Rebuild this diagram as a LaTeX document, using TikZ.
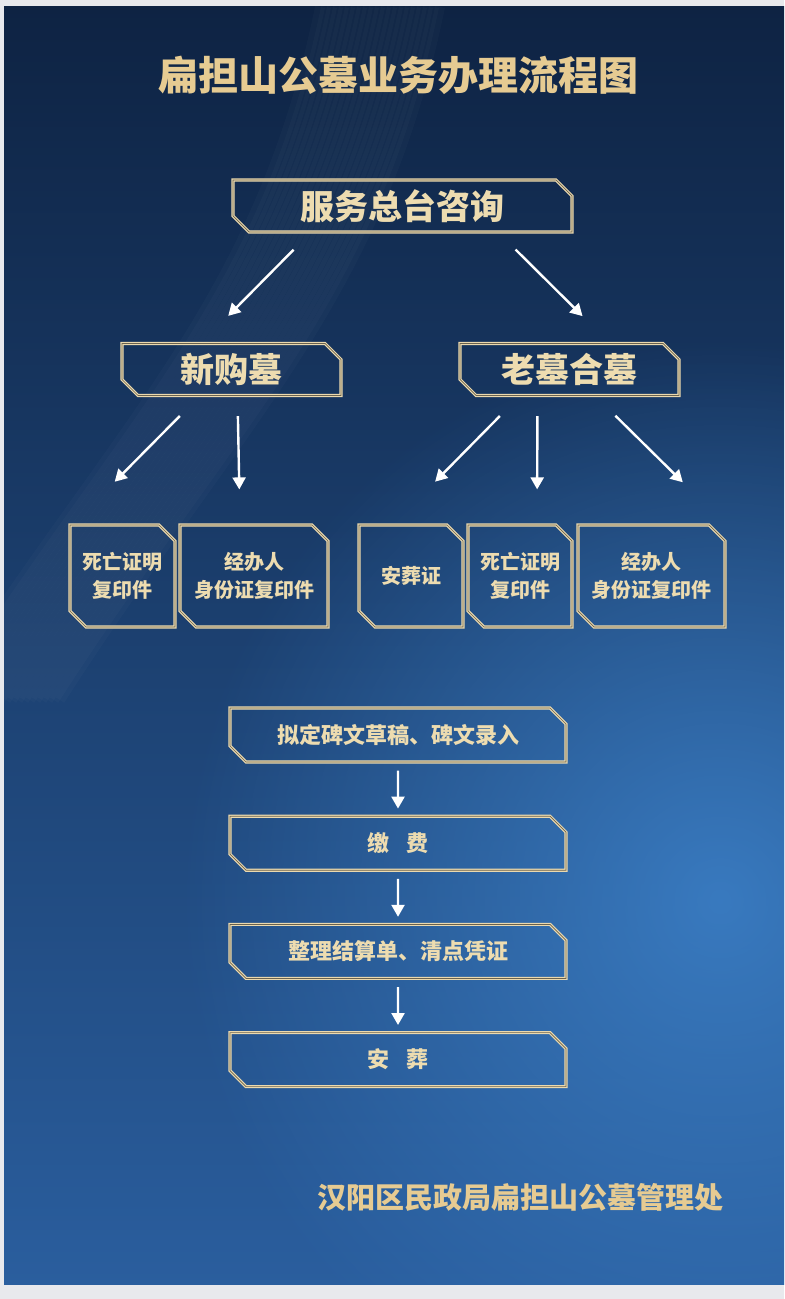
\documentclass[tikz,border=0pt]{standalone}
\usepackage{fontspec}
\newfontfamily\cjk{Noto Sans CJK SC}
\usetikzlibrary{arrows.meta,positioning,shapes.misc,fadings}
\definecolor{pagegray}{HTML}{E8E9ED}
\definecolor{bgtop}{HTML}{0E2343}
\definecolor{bgmid}{HTML}{163963}
\definecolor{bgbot}{HTML}{2A5E9E}
\definecolor{glowblue}{HTML}{3D82CA}
\definecolor{titlegold}{HTML}{E6CB92}
\definecolor{frame}{HTML}{EBD9AE}
\definecolor{boxtext}{HTML}{EDDCB0}
\tikzfading[name=softglow, inner color=transparent!15, outer color=transparent!100]

\begin{document}
\begin{tikzpicture}[x=0.5pt, y=-0.5pt,
  box/.style={chamfered rectangle, chamfered rectangle corners={north east,south west},
    chamfered rectangle xsep=4pt, chamfered rectangle ysep=4pt, inner sep=0pt,
    draw=frame, line width=0.6pt, double=frame!45!black, double distance=0.35pt,
    text=boxtext, align=center},
  headbox/.style={box, minimum height=26pt, font=\cjk\bfseries\fontsize{17}{20}\selectfont},
  docbox/.style={box, minimum height=51pt, font=\cjk\bfseries\fontsize{10}{14}\selectfont},
  flowbox/.style={box, minimum width=168pt, minimum height=27pt, font=\cjk\bfseries\fontsize{11}{13}\selectfont},
  arr/.style={-{Triangle[length=6pt,width=6.5pt]}, white, line width=1.2pt}
]
\useasboundingbox (0,0) rectangle (784,1299);
% background
\fill[pagegray] (0,0) rectangle (784,1299);
\shade[top color=bgtop, middle color=bgmid, bottom color=bgbot] (4,7) rectangle (784,1284);
\begin{scope}
  \clip (4,7) rectangle (784,1284);
  \fill[glowblue, path fading=softglow] (180,340) rectangle (1260,1460);
  \foreach \s in {0,6,...,120}
    \draw[white, opacity=0.02, line width=5pt] (320+\s,7) .. controls (260+\s,300) and (120+\s,420) .. (-60+\s,700);
\end{scope}

\node[font=\cjk\bfseries\fontsize{20}{24}\selectfont, text=titlegold] (title) at (398,75) {扁担山公墓业务办理流程图};

\node[headbox, minimum width=169.5pt] (consult) at (402.5,206) {服务总台咨询};
\node[headbox, minimum width=109.5pt] (newtomb) at (231.5,369.5) {新购墓};
\node[headbox, minimum width=109.5pt] (oldtomb) at (569.5,369.5) {老墓合墓};

\node[docbox, minimum width=52.5pt] (newdeath) at (122.5,576) {死亡证明\\复印件};
\node[docbox, minimum width=74pt] (newagent) at (254,576) {经办人\\身份证复印件};
\node[docbox, minimum width=52pt] (oldburial) at (411,576) {安葬证};
\node[docbox, minimum width=52pt] (olddeath) at (520,576) {死亡证明\\复印件};
\node[docbox, minimum width=73.5pt] (oldagent) at (651.5,576) {经办人\\身份证复印件};

\node[flowbox] (draft) at (398,735) {拟定碑文草稿、碑文录入};
\node[flowbox, below=26.5pt of draft] (pay) {缴\hspace{0.8em}费};
\node[flowbox, below=26.5pt of pay] (settle) {整理结算单、清点凭证};
\node[flowbox, below=26.5pt of settle] (bury) {安\hspace{0.8em}葬};

\node[font=\cjk\bfseries\fontsize{14.5}{17}\selectfont, text=titlegold] (office) at (520,1197) {汉阳区民政局扁担山公墓管理处};

\draw[arr, shorten <=12pt, shorten >=19pt] ([xshift=-46pt]consult.south) -- ([xshift=-15pt]newtomb.north);
\draw[arr, shorten <=12pt, shorten >=19pt] ([xshift=48pt]consult.south) -- ([xshift=20pt]oldtomb.north);
\draw[arr, shorten <=14pt, shorten >=30pt] ([xshift=-16pt]newtomb.south) -- ([xshift=-25pt]newdeath.north);
\draw[arr, shorten <=10pt, shorten >=17.5pt] ([xshift=3pt]newtomb.south) -- ([xshift=-7pt]newagent.north);
\draw[arr, shorten <=14pt, shorten >=30pt] ([xshift=-25pt]oldtomb.south) -- ([xshift=-9pt]oldburial.north);
\draw[arr, shorten <=10pt, shorten >=17.5pt] ([xshift=-16pt]oldtomb.south) -- ([xshift=8.5pt]olddeath.north);
\draw[arr, shorten <=14pt, shorten >=30pt] ([xshift=13pt]oldtomb.south) -- ([xshift=37pt]oldagent.north);
\draw[arr, shorten <=4pt, shorten >=3.5pt] (draft) -- (pay);
\draw[arr, shorten <=4pt, shorten >=3.5pt] (pay) -- (settle);
\draw[arr, shorten <=4pt, shorten >=3.5pt] (settle) -- (bury);
\end{tikzpicture}
\end{document}
